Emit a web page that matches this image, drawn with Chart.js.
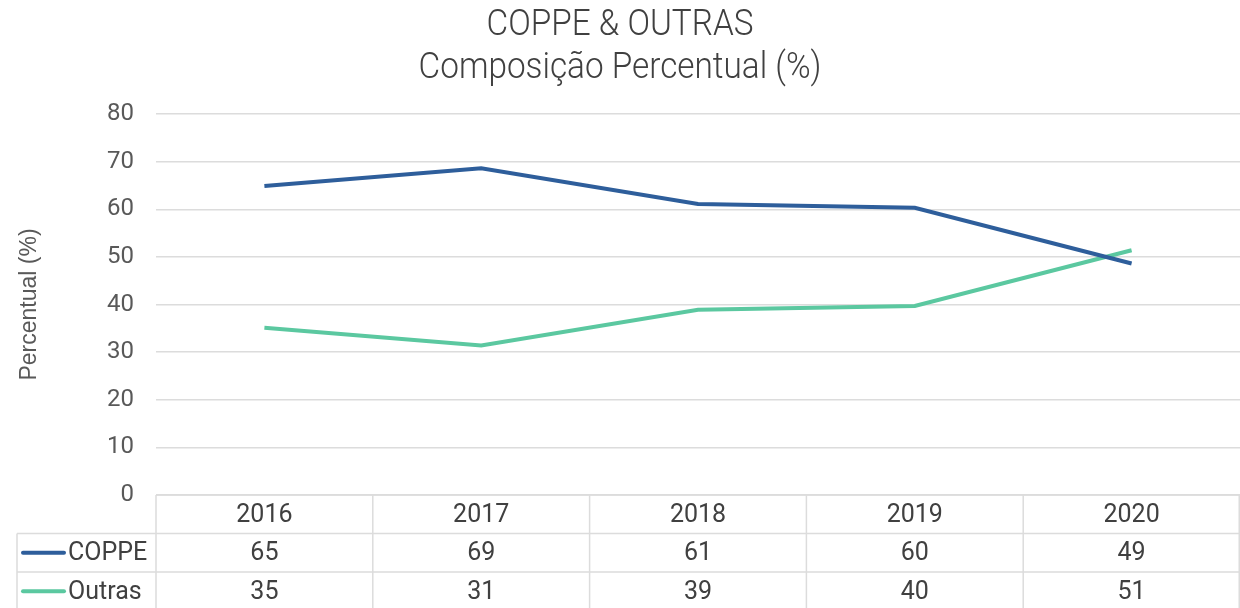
<!DOCTYPE html>
<html>
<head>
<meta charset="utf-8">
<script src="https://cdn.jsdelivr.net/npm/chart.js@4.4.1/dist/chart.umd.min.js"></script>
<style>
  html, body { margin: 0; padding: 0; background: #fff; }
  #wrap { width: 1240px; height: 608px; position: relative; }
</style>
</head>
<body>
<div id="wrap"><canvas id="chart"></canvas></div>
<script>
// ── data ──────────────────────────────────────────────────────────────
const years  = ["2016", "2017", "2018", "2019", "2020"];
const coppe  = [64.9, 68.6, 61.1, 60.3, 48.6];
const outras = [35.1, 31.4, 38.9, 39.7, 51.4];
const seriesNames = ["COPPE", "Outras"];
const titleLines = ["COPPE & OUTRAS", "Composição Percentual (%)"];
const yTicks = [0, 10, 20, 30, 40, 50, 60, 70, 80];

const COLOURS = {
  coppe:  "#2e5e9b",
  outras: "#5bc8a0",
  grid:   "#dcdcdc",
  tick:   "#595959",
  text:   "#404040",
};

// two-line condensed title, drawn narrow the way the source font is
const condensedTitle = {
  id: "condensedTitle",
  afterDraw(chart) {
    const { ctx, width } = chart;
    ctx.save();
    ctx.font = "300 37px Roboto, sans-serif";
    ctx.fillStyle = COLOURS.text;
    ctx.textAlign = "center";
    ctx.textBaseline = "middle";
    const sx = 0.9;
    ctx.scale(sx, 1);
    ctx.fillText(titleLines[0], width / 2 / sx, 26);
    ctx.fillText(titleLines[1], width / 2 / sx, 69);
    ctx.restore();
  },
};

// Excel-style data table drawn under the plot, aligned on the x scale
const dataTable = {
  id: "dataTable",
  afterDraw(chart) {
    const { ctx, chartArea } = chart;
    const xs = chart.scales.x;
    const half = (xs.getPixelForValue(1) - xs.getPixelForValue(0)) / 2;
    const top = chartArea.bottom;
    const rowH = 38.5;
    const legendLeft = 17;
    const right = chartArea.right;
    const rows = [coppe, outras];
    const cols = [COLOURS.coppe, COLOURS.outras];

    ctx.save();
    ctx.strokeStyle = COLOURS.grid;
    ctx.lineWidth = 1.5;
    ctx.beginPath();
    ctx.moveTo(chartArea.left, top); ctx.lineTo(right, top);
    for (let r = 1; r <= 2; r++) {
      ctx.moveTo(legendLeft, top + r * rowH); ctx.lineTo(right, top + r * rowH);
    }
    ctx.moveTo(legendLeft, top + rowH); ctx.lineTo(legendLeft, top + 3 * rowH);
    years.forEach((y, i) => {
      const x = xs.getPixelForValue(i) - half;
      ctx.moveTo(x, top); ctx.lineTo(x, top + 3 * rowH);
    });
    ctx.moveTo(right - 0.75, top); ctx.lineTo(right - 0.75, top + 3 * rowH);
    ctx.stroke();

    ctx.font = "25px Roboto, 'Liberation Sans', sans-serif";
    ctx.fillStyle = COLOURS.text;
    ctx.textAlign = "center";
    ctx.textBaseline = "middle";
    years.forEach((y, i) => {
      const x = xs.getPixelForValue(i);
      ctx.fillText(y, x, top + rowH / 2 + 1);
      rows.forEach((vals, r) => {
        ctx.fillText(String(Math.round(vals[i])), x, top + (r + 1.5) * rowH + 1);
      });
    });

    rows.forEach((vals, r) => {
      const cy = top + (r + 1.5) * rowH;
      ctx.strokeStyle = cols[r];
      ctx.lineWidth = 4;
      ctx.lineCap = "round";
      ctx.beginPath();
      ctx.moveTo(23, cy); ctx.lineTo(64, cy);
      ctx.stroke();
      ctx.textAlign = "left";
      ctx.fillStyle = COLOURS.text;
      ctx.fillText(seriesNames[r], 68, cy + 1);
    });
    ctx.restore();
  },
};

new Chart(document.getElementById("chart"), {
  type: "line",
  data: {
    labels: years,
    datasets: [
      { label: seriesNames[0], data: coppe,  borderColor: COLOURS.coppe,  backgroundColor: COLOURS.coppe,  borderWidth: 4, pointRadius: 0, tension: 0 },
      { label: seriesNames[1], data: outras, borderColor: COLOURS.outras, backgroundColor: COLOURS.outras, borderWidth: 4, pointRadius: 0, tension: 0 },
    ],
  },
  options: {
    responsive: true,
    maintainAspectRatio: false,
    animation: false,
    layout: { padding: { left: 0, right: 0, top: 114, bottom: 113 } },
    plugins: {
      legend: { display: false },
      tooltip: { enabled: false },
      title: { display: false },
    },
    scales: {
      x: {
        type: "category",
        offset: true,
        display: false,
      },
      y: {
        min: 0,
        max: 80,
        afterBuildTicks: (scale) => { scale.ticks = yTicks.map((v) => ({ value: v })); },
        afterFit: (scale) => { scale.width = 156; },
        border: { display: false },
        grid: { color: COLOURS.grid, lineWidth: 1.5, drawTicks: false },
        ticks: {
          color: COLOURS.tick,
          padding: 22,
          font: { family: "Roboto, 'Liberation Sans', sans-serif", size: 24 },
        },
        title: {
          display: true,
          text: "Percentual (%)",
          color: COLOURS.tick,
          font: { family: "'Liberation Sans', Arial, sans-serif", size: 23 },
          padding: { top: 16, bottom: 0 },
        },
      },
    },
  },
  plugins: [condensedTitle, dataTable],
});
</script>
</body>
</html>
